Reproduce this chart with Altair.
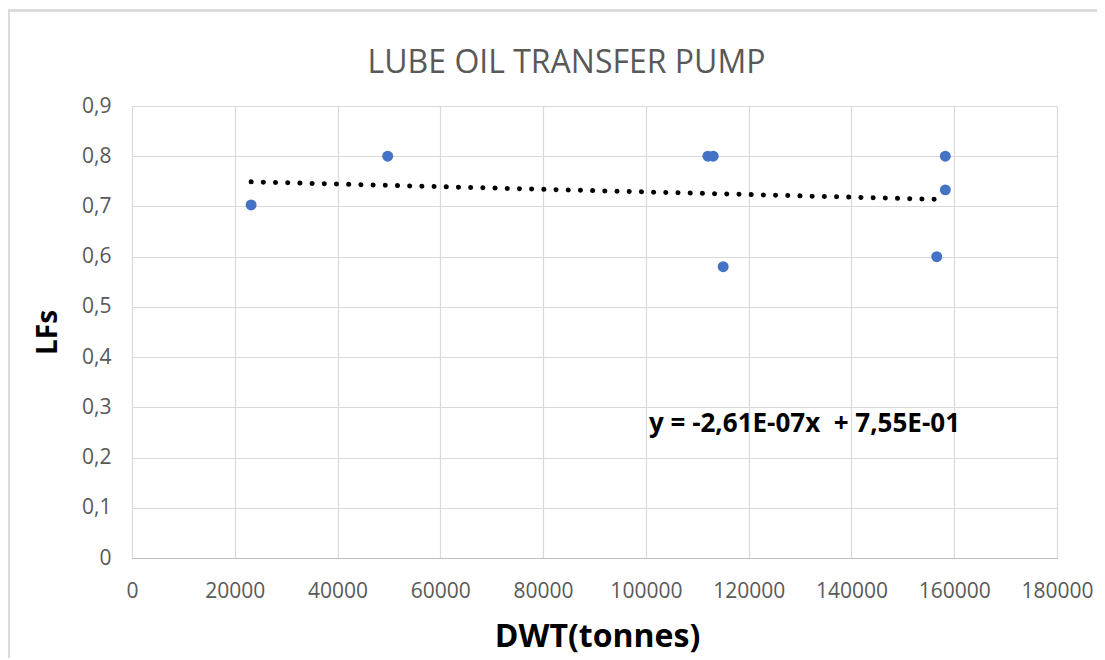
import altair as alt
import pandas as pd

# data
dwt = [23175, 49760, 112060, 113100, 115040, 156600, 158270, 158270]
lfs = [0.703, 0.800, 0.800, 0.800, 0.580, 0.600, 0.800, 0.733]

# trendline coefficients as printed on the chart
slope = -2.61e-07
intercept = 0.755
eq_label = ["y = -2,61E-07x\u00a0 + 7,55E-01"]
eq_x = [100600]
eq_y = [0.2505]

title_text = ["LUBE OIL TRANSFER PUMP"]

x_ticks = [0, 20000, 40000, 60000, 80000, 100000, 120000, 140000, 160000, 180000]
y_ticks = [0, 0.1, 0.2, 0.3, 0.4, 0.5, 0.6, 0.7, 0.8, 0.9]

df = pd.DataFrame({"DWT": dwt, "LF": lfs})
eq_df = pd.DataFrame({"x": eq_x, "y": eq_y, "label": eq_label})
title_df = pd.DataFrame({"t": title_text})

FONT = "Open Sans"
GRID = "#d9d9d9"
LABEL = "#595959"

xscale = alt.Scale(domain=[0, 180000], nice=False)
yscale = alt.Scale(domain=[0, 0.9], nice=False)

xaxis = alt.Axis(
    values=x_ticks, format="d", title="DWT(tonnes)",
    grid=True, gridColor=GRID, gridWidth=1.2,
    domain=True, domainColor="#bfbfbf", domainWidth=1.2,
    ticks=False, labelPadding=33, labelFontSize=21, labelColor=LABEL, labelFont=FONT,
    labelBaseline="middle", labelOverlap=False, labelFlush=False,
    titleFont=FONT, titleFontSize=32, titleFontWeight="bold", titleColor="black",
    titleX=465, titleY=88, titleBaseline="alphabetic", titleAnchor="middle", titleAlign="center",
)
yaxis = alt.Axis(
    values=y_ticks, title="LFs",
    labelExpr="datum.value == 0 ? '0' : replace(format(datum.value, '.1f'), '.', ',')",
    grid=True, gridColor=GRID, gridWidth=1.2, domain=False, labelOverlap=False,
    ticks=False, labelPadding=21, labelFontSize=21, labelColor=LABEL, labelFont=FONT,
    titleFont=FONT, titleFontSize=28, titleFontWeight="bold", titleColor="black",
    titleAngle=270, titleX=-84, titleY=226, titleAlign="center", titleBaseline="middle",
)

points = alt.Chart(df).mark_circle(size=120, color="#4472C4", opacity=1).encode(
    x=alt.X("DWT:Q", scale=xscale, axis=xaxis),
    y=alt.Y("LF:Q", scale=yscale, axis=yaxis),
)

trend = alt.Chart(df).transform_calculate(
    fit=f"{slope} * datum.DWT + {intercept}"
).mark_line(
    color="black", strokeWidth=5, strokeCap="round", strokeDash=[0.1, 12.1]
).encode(
    x=alt.X("DWT:Q", scale=xscale),
    y=alt.Y("fit:Q", scale=yscale),
    order="DWT:Q",
)

equation = alt.Chart(eq_df).mark_text(
    align="left", baseline="alphabetic", font=FONT, fontSize=26, fontWeight="bold", color="black"
).encode(
    x=alt.X("x:Q", scale=xscale),
    y=alt.Y("y:Q", scale=yscale),
    text="label:N",
)

title = alt.Chart(title_df).mark_text(
    align="center", baseline="alphabetic", font=FONT, fontSize=32, fontWeight="normal", color=LABEL
).encode(
    x=alt.value(434.5), y=alt.value(-33), text="t:N"
)

border_top = alt.Chart(df).mark_rule(color=GRID, strokeWidth=1.5).encode(
    x=alt.value(-123.5), x2=alt.value(1000), y=alt.value(-95.5)
)
border_left = alt.Chart(df).mark_rule(color=GRID, strokeWidth=1.5).encode(
    x=alt.value(-123.5), y=alt.value(-95.5), y2=alt.value(560)
)

chart = alt.layer(border_top, border_left, points, trend, equation, title).properties(
    width=925, height=452,
    autosize=alt.AutoSizeParams(type="none"),
    padding={"left": 124, "top": 98, "right": 40, "bottom": 100},
).configure_view(strokeOpacity=0).configure(background="white")

chart.save("out.html", embed_options={"renderer": "svg", "actions": False})
